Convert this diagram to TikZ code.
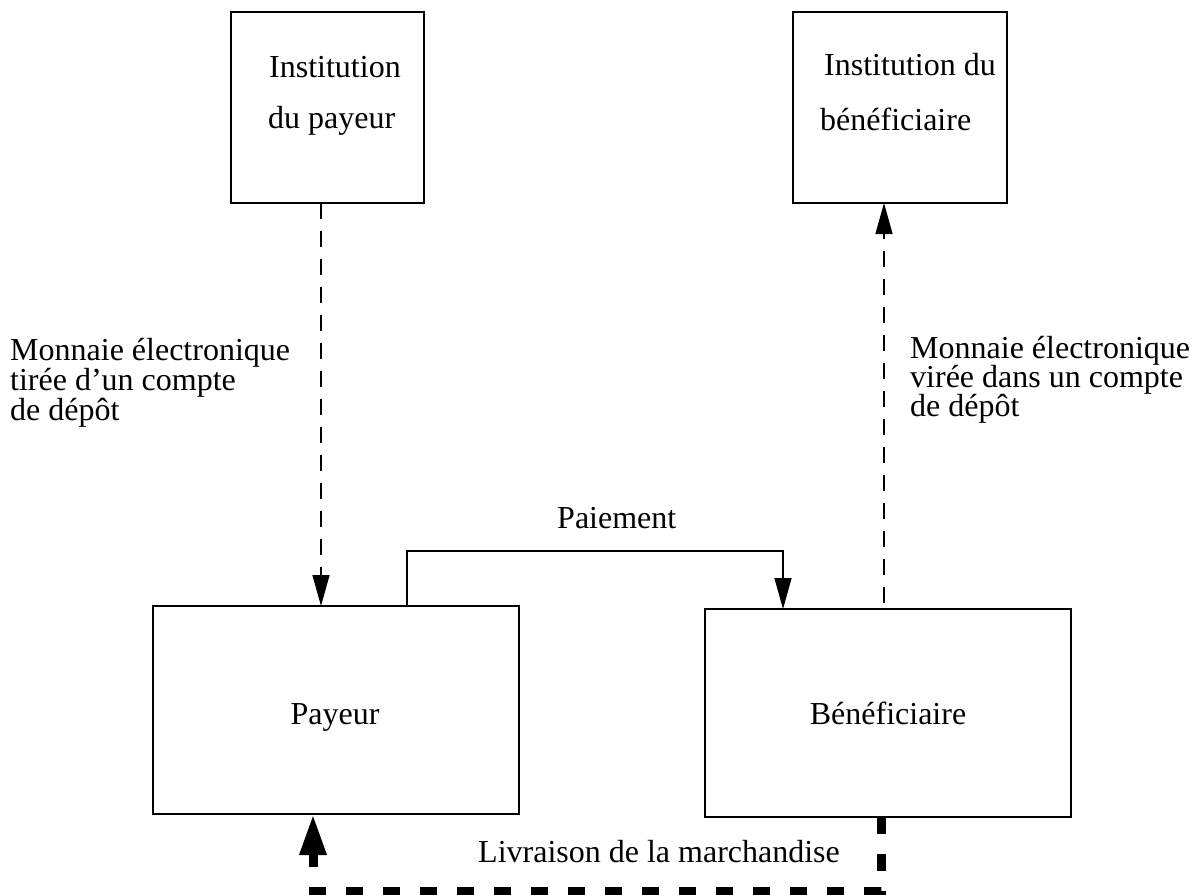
\documentclass[tikz,border=0pt]{standalone}
\usepackage{fontspec}
\setmainfont{Liberation Serif}
\usetikzlibrary{arrows.meta}
\tikzset{
  box/.style={draw, line width=1.3pt, inner sep=0pt, outer sep=0pt},
  lbl/.style={font=\fontsize{32}{38}\selectfont, inner sep=0pt, anchor=base west},
  lblc/.style={font=\fontsize{32}{38}\selectfont, inner sep=0pt, anchor=base},
  thinarrow/.style={line width=1.3pt, -{Triangle[length=31pt,width=17pt]}},
  thindash/.style={thinarrow, dash pattern=on 16pt off 12pt},
  thickdash/.style={line width=9pt, dash pattern=on 17pt off 20pt, miter limit=10,
                    -{Triangle[length=41pt,width=25pt]}}
}
\begin{document}
\begin{tikzpicture}[x=1pt,y=-1pt]
\useasboundingbox (0,0) rectangle (1201,894);

% boxes
\node[box, minimum width=193pt, minimum height=191pt] (ip) at (327.5,107.5) {};
\node[box, minimum width=214pt, minimum height=191pt] (ib) at (900,107.5) {};
\node[box, minimum width=366pt, minimum height=208pt] (payeur) at (336,710) {};
\node[box, minimum width=366pt, minimum height=208pt] (bene) at (888,713) {};

% box texts
\node[lbl] (ipt1) at (269,77) {Institution};
\node[lbl] (ipt2) at (268,128) {du payeur};
\node[lbl] (ibt1) at (824,75) {Institution du};
\node[lbl] (ibt2) at (820,130) {bénéficiaire};
\node[lblc] (payt) at (335,724) {Payeur};
\node[lblc] (bent) at (888,724) {Bénéficiaire};

% side labels
\node[lbl] (l1) at (10,360) {Monnaie électronique};
\node[lbl] (l2) at (10,390) {tirée d’un compte};
\node[lbl] (l3) at (10,420) {de dépôt};
\node[lbl] (r1) at (910,358) {Monnaie électronique};
\node[lbl] (r2) at (910,387) {virée dans un compte};
\node[lbl] (r3) at (910,416) {de dépôt};
\node[lbl] (paie) at (557,528) {Paiement};
\node[lbl] (livr) at (478,862) {Livraison de la marchandise};

% dashed thin connectors
\draw[thindash] ([xshift=-6.5pt]ip.south) -- ([xshift=-15pt]payeur.north);
\draw[thindash, shorten <=6pt] ([xshift=-4pt]bene.north) -- ([xshift=-16pt]ib.south);

% Paiement connector
\coordinate (pl) at (407,551);
\coordinate (pr) at (783,551);
\draw[thinarrow] ([xshift=71pt]payeur.north) -- (pl) -- (pr) -- (bene.north -| pr);

% Livraison thick dashed connector
\coordinate (c1) at (881,891);
\coordinate (c2) at (313,891);
\draw[thickdash] ([xshift=-7pt]bene.south) -- (c1) -- (c2) -- (payeur.south -| c2);
\end{tikzpicture}
\end{document}
